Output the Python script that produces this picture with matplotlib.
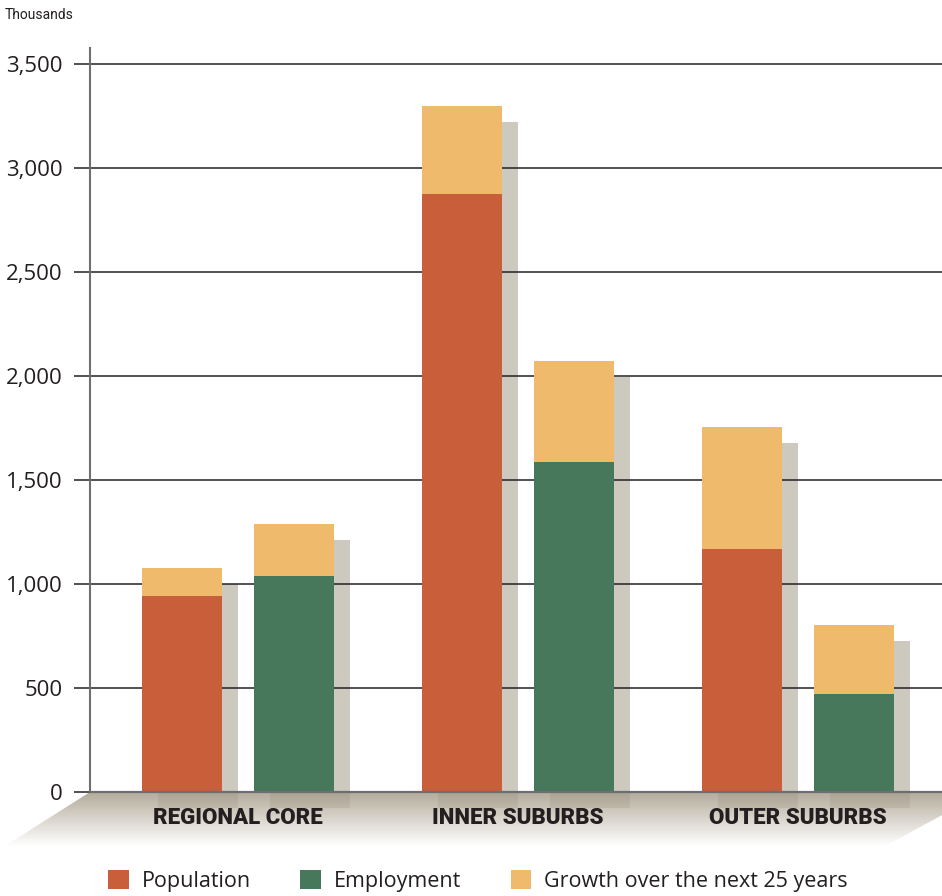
import numpy as np
import matplotlib
matplotlib.use("Agg")
import matplotlib.pyplot as plt
from matplotlib.patches import Polygon, Patch
from matplotlib.colors import LinearSegmentedColormap

categories = ["REGIONAL CORE", "INNER SUBURBS", "OUTER SUBURBS"]
population = [942, 2875, 1168]
population_growth = [135, 423, 587]
employment = [1038, 1587, 471]
employment_growth = [250, 485, 332]
yticks = [0, 500, 1000, 1500, 2000, 2500, 3000, 3500]
ytick_labels = ["0", "500", "1,000", "1,500", "2,000", "2,500", "3,000", "3,500"]
legend_labels = ["Population", "Employment", "Growth over the next 25 years"]

C_POP = "#c95f3a"
C_EMP = "#47785c"
C_GROW = "#f0ba6c"
C_SHADOW = "#cdc9bf"
C_TEXT = "#231f20"

W, H = 942, 896
fig = plt.figure(figsize=(W / 100, H / 100), dpi=100)

# floor (pixel coordinate overlay axes)
fax = fig.add_axes([0, 0, 1, 1], zorder=0)
fax.set_xlim(0, W)
fax.set_ylim(H, 0)
fax.axis("off")
poly = Polygon([(90, 792), (985, 792), (885, 846), (5, 846)], closed=True,
               facecolor="none", edgecolor="none")
fax.add_patch(poly)
cmap = LinearSegmentedColormap.from_list(
    "floor", [(0, "#b3ab9b"), (0.45, "#d6d1c8"), (1.0, "#ffffff")])
grad = np.linspace(0, 1, 256).reshape(-1, 1)
im = fax.imshow(grad, cmap=cmap, extent=(0, 985, 846, 792), aspect="auto",
                interpolation="bicubic")
im.set_clip_path(poly)

# main axes
ax_bottom = (H - 792) / H
ax_top = (H - 48) / H
ax_left = 90 / W
ax = fig.add_axes([ax_left, ax_bottom, 1 - ax_left, ax_top - ax_bottom], zorder=1)
ax.patch.set_alpha(0)

px_per_unit = 728 / 3500.0  # pixels per thousand
group_px = 280.0
x_off = 16 / group_px
y_off = 16 / px_per_unit
bw = 80 / group_px
half = 56 / group_px

x = np.arange(len(categories))
ymax = 3500 + 16 / px_per_unit
ax.set_ylim(0, ymax)
ax.set_xlim(-148 / group_px, (W - 238) / group_px)

pop_tot = np.array(population) + np.array(population_growth)
emp_tot = np.array(employment) + np.array(employment_growth)

for xc, tot in ((x - half, pop_tot), (x + half, emp_tot)):
    # vertical shadow
    ax.bar(xc + x_off, tot - y_off, width=bw, color=C_SHADOW, zorder=1)
    # floor shadow
    ax.bar(xc + x_off, y_off, bottom=-y_off, width=bw, color="#8a806a",
           alpha=0.18, zorder=1, clip_on=False)

# gridlines
ax.hlines([t for t in yticks if t > 0], ax.get_xlim()[0], ax.get_xlim()[1],
          color=C_TEXT, lw=1.1, zorder=1.5)

ax.bar(x - half, population, width=bw, color=C_POP, zorder=2)
ax.bar(x - half, population_growth, bottom=population, width=bw, color=C_GROW, zorder=2)
ax.bar(x + half, employment, width=bw, color=C_EMP, zorder=2)
ax.bar(x + half, employment_growth, bottom=employment, width=bw, color=C_GROW, zorder=2)

# baseline
ax.axhline(0, color="#6d6e71", lw=1.6, zorder=3, clip_on=False)

for s in ("top", "right", "bottom"):
    ax.spines[s].set_visible(False)
ax.spines["left"].set_color("#6d6e71")
ax.spines["left"].set_linewidth(1.5)
ax.spines["left"].set_zorder(3)

ax.set_yticks(yticks)
ax.set_yticklabels(ytick_labels, fontsize=16, family="Open Sans", color=C_TEXT)
ax.tick_params(axis="y", length=11.5, width=1.1, color=C_TEXT, pad=8)
ax.set_xticks([])

for xi, lab in zip(x, categories):
    ax.text(xi, -y_off * 1.65, lab, ha="center", va="center", fontsize=16,
            family="Roboto", fontweight="black", color=C_TEXT, clip_on=False)

fig.text(5 / W, 1 - 15 / H, "Thousands", fontsize=10, family="Roboto",
         color=C_TEXT, ha="left", va="center")

handles = [Patch(facecolor=c, edgecolor="none") for c in (C_POP, C_EMP, C_GROW)]
leg = fig.legend(handles, legend_labels, loc="center", ncol=3,
                 bbox_to_anchor=(478 / W, 1 - 881 / H), frameon=False,
                 prop={"family": "Open Sans", "size": 15.5},
                 handlelength=0.95, handleheight=0.95, handletextpad=0.6,
                 columnspacing=2.3, borderpad=0)
for t in leg.get_texts():
    t.set_color(C_TEXT)

fig.savefig("out.png", dpi=100)
